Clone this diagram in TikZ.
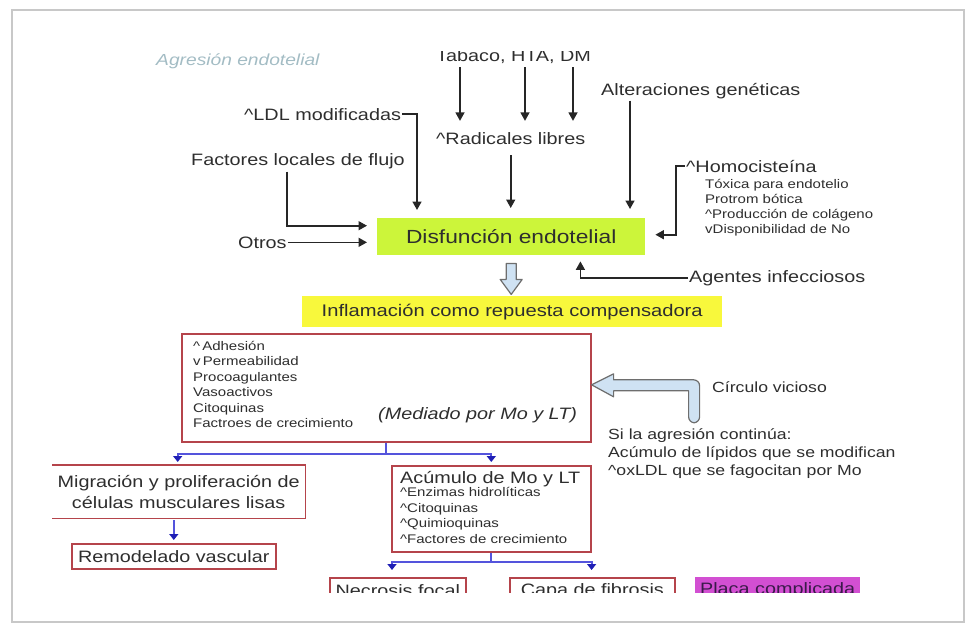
\documentclass[tikz,border=0pt]{standalone}
\usepackage{fontspec}
\setmainfont{Liberation Sans}[FakeStretch=1.2]
\usepackage{tikz}
\usetikzlibrary{arrows.meta,calc}
\definecolor{TxtGray}{HTML}{2E2E2E}
\definecolor{ArrowGray}{HTML}{262626}
\definecolor{LimeFill}{HTML}{CCF53A}
\definecolor{YellowFill}{HTML}{F8F83C}
\definecolor{BoxRed}{HTML}{B5444B}
\definecolor{LinkBlue}{HTML}{5454DC}
\definecolor{TipBlue}{HTML}{1F1FB5}
\definecolor{SoftBlue}{HTML}{CFE2F3}
\definecolor{EdgeGray}{HTML}{6E6E6E}
\definecolor{PlumFill}{HTML}{D24FD2}
\definecolor{PlumText}{HTML}{3A1A4A}
\definecolor{FrameGray}{HTML}{C8C8C8}
\definecolor{TitleTeal}{HTML}{A3BCC4}
\newcommand{\UpMark}{\textasciicircum}
\tikzset{
  % plain labels
  TX/.style={font=\fontsize{16.5}{19}\selectfont,text=TxtGray,inner sep=1pt},
  TM/.style={font=\fontsize{14.7}{18}\selectfont,text=TxtGray,inner sep=0pt,align=left},
  SM/.style={font=\fontsize{12.5}{15.5}\selectfont,text=TxtGray,inner sep=0pt,align=left},
  % base box
  FB/.style={rectangle,inner sep=0pt,text=TxtGray,anchor=north west,
             font=\fontsize{16.5}{21}\selectfont,align=center},
  nL/.style={FB,fill=LimeFill},
  nY/.style={FB,fill=YellowFill},
  nR/.style={FB,draw=BoxRed,line width=1.6pt,fill=white},
  nP/.style={FB,fill=PlumFill,text=PlumText},
  % connectors
  arr/.style={-{Triangle[length=8.5pt,width=9pt]},line width=1.6pt,draw=ArrowGray},
  lnB/.style={line width=2pt,draw=LinkBlue},
  arrB/.style={lnB,-{Triangle[length=6pt,width=9pt,color=TipBlue]}},
  blk/.style={fill=SoftBlue,draw=EdgeGray,line width=1.2pt,line join=round}
}
\begin{document}
\begin{tikzpicture}[x=1pt,y=-1pt]
  \useasboundingbox (0,0) rectangle (966,625);
  \draw[FrameGray,line width=2pt] (12,10) rectangle (964,622);

  \begin{scope}
  \clip (13,51) rectangle (962,592);

  % --- causes of endothelial damage ---
  \node[TX,text=TitleTeal,font=\fontsize{16}{19}\selectfont\itshape,anchor=base west] (agr) at (155,65) {Agresión endotelial};
  \node[TX,anchor=base west] (tab) at (435,61)  {Tabaco, HTA, DM};
  \node[TX,anchor=base west] (rad) at (435,144) {\UpMark Radicales libres};
  \node[TX,anchor=base west] (alt) at (600,95)  {Alteraciones genéticas};
  \node[TX,anchor=base west] (ldl) at (243,120) {\UpMark LDL modificadas};
  \node[TX,anchor=base west] (flu) at (190,165) {Factores locales de flujo};
  \node[TX,anchor=base west] (otr) at (237,248) {Otros};
  \node[TX,anchor=base west] (hom) at (685,172) {\UpMark Homocisteína};
  \node[SM,anchor=north west,font=\fontsize{12.5}{14.7}\selectfont] (hsub) at (705,179.5)
       {Tóxica para endotelio\\Protrom bótica\\\UpMark Producción de colágeno\\vDisponibilidad de No};
  \node[TX,anchor=base west] (age) at (688,282) {Agentes infecciosos};

  \node[nL,minimum width=268pt,minimum height=37pt] (dis) at (377,218)
       {\fontsize{19}{22}\selectfont Disfunción endotelial};
  \node[nY,minimum width=420pt,minimum height=31pt] (inf) at (302,296)
       {\fontsize{16.8}{19}\selectfont Inflamación como repuesta compensadora};

  \foreach \dx in {25,90,138}
    \draw[arr] ($(tab.south west)+(\dx,3)$) -- ($(rad.north west)+(\dx,-10)$);
  \draw[arr] ($(rad.south)+(0,10)$) -- ($(rad.south |- dis.north)+(0,-10)$);
  \draw[arr,shorten >=9pt] ($(alt.south west)+(30,1)$) coordinate (a1) -- (a1 |- dis.north);
  \draw[arr,shorten >=8pt] (ldl.east) -| ($(dis.north west)+(40,0)$);
  \draw[arr,shorten >=10pt] ($(flu.south west)+(97,2)$) |- ($(dis.west)+(0,-11)$);
  \draw[arr,shorten >=10pt] (otr.east) -- (otr.east -| dis.west);
  \draw[arr,shorten >=10pt] (hom.west) -- ++(-9,0) |- ($(dis.east)+(0,-2)$);
  \draw[arr,shorten >=6pt] (age.west) -| ($(dis.south east)+(-65,0)$);
  % hollow arrow down
  \draw[blk] ($(dis.south)+(-5,8)$) -- ++(10,0) -- ++(0,16) -- ++(6,0) -- ++(-11,15) -- ++(-11,-15) -- ++(6,0) -- cycle;

  % --- inflammation box ---
  \node[nR,minimum width=409pt,minimum height=108pt] (mbox) at (181,333) {};
  \node[SM,anchor=north west] (mlist) at (193,341)
       {\UpMark\,Adhesión\\v\,Permeabilidad\\Procoagulantes\\Vasoactivos\\Citoquinas\\Factroes de crecimiento};
  \node[TX,font=\fontsize{16.5}{19}\selectfont\itshape,anchor=base west] (med) at (377,419) {(Mediado por Mo y LT)};

  % vicious circle
  \draw[blk] ($(mbox.east)+(0,-3)$) -- ++(22,-11) -- ++(0,6) [rounded corners=6pt] -- ++(86,0) -- ++(0,43) -- ++(-11,0) [sharp corners] -- ++(0,-32) -- ++(-75,0) -- ++(0,6) -- cycle;
  \node[TM,anchor=base west] (cir) at (712,392) {Círculo vicioso};
  \node[TM,anchor=north west] (sia) at (608,428.5)
       {Si la agresión continúa:\\Acúmulo de lípidos que se modifican\\\UpMark oxLDL que se fagocitan por Mo};

  % --- lower branches ---
  \node[FB,minimum width=253pt,minimum height=53pt] (mig) at (52,465)
       {Migración y proliferación de\\células musculares lisas};
  \draw[BoxRed,line width=1.6pt] (mig.north west) -- (mig.north east) -- (mig.south east) -- (mig.south west);
  \node[nR,minimum width=204pt,minimum height=25pt] (rem) at (71,543) {Remodelado vascular};

  \node[nR,minimum width=199pt,minimum height=86pt] (acu) at (391,465) {};
  \node[TX,anchor=base west] (acut) at (399,483) {Acúmulo de Mo y LT};
  \node[SM,anchor=north west,font=\fontsize{12.5}{15.7}\selectfont] (alist) at (400,487)
       {\UpMark Enzimas hidrolíticas\\\UpMark Citoquinas\\\UpMark Quimioquinas\\\UpMark Factores de crecimiento};

  \node[nR,minimum width=136pt,minimum height=26pt] (nec) at (329,577) {Necrosis focal};
  \node[nR,minimum width=165pt,minimum height=26pt] (cap) at (509,577) {Capa de fibrosis};
  \node[nP,minimum width=165pt,minimum height=26pt] (pla) at (695,577) {Placa complicada};

  \draw[lnB] (mbox.south) -- ++(0,11) coordinate (j1);
  \draw[arrB] (j1) -| ($(mig.north)+(-1,-3)$);
  \draw[arrB] (j1) -| ($(acu.north)+(0,-3)$);
  \draw[arrB] ($(rem.north |- mig.south)+(0,2)$) -- ($(rem.north)+(0,-3)$);
  \draw[lnB] (acu.south) -- ++(0,9) coordinate (j2);
  \draw[arrB] (j2) -| ($(acu.west |- nec.north)+(1,-7)$);
  \draw[arrB] (j2) -| ($(acu.east |- cap.north)+(0,-7)$);
  \end{scope}
\end{tikzpicture}
\end{document}
